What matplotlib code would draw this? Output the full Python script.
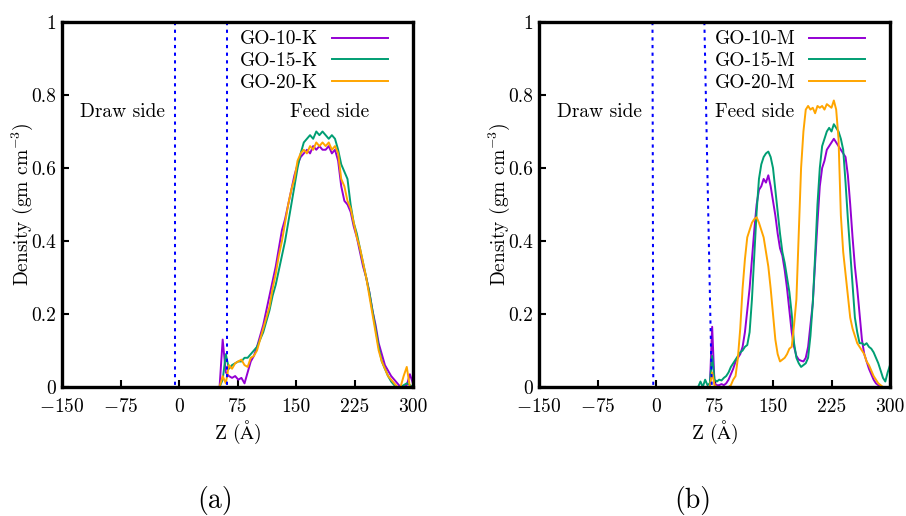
import numpy as np
import matplotlib
matplotlib.use('Agg')
import matplotlib.pyplot as plt

plt.rcParams['font.family'] = ['cmr10', 'DejaVu Serif']
plt.rcParams['mathtext.fontset'] = 'cm'
plt.rcParams['axes.unicode_minus'] = False
plt.rcParams['axes.formatter.use_mathtext'] = True

# density profiles along z, K-series (panel a) on a 4 A grid
z_a = np.arange(52, 301, 4)
go10_k = [0.00, 0.13, 0.04, 0.03, 0.025, 0.03, 0.02, 0.025, 0.01, 0.04,
          0.07, 0.085, 0.11, 0.14, 0.17, 0.21, 0.25, 0.29, 0.33, 0.38,
          0.43, 0.46, 0.50, 0.54, 0.58, 0.61, 0.63, 0.64, 0.65, 0.64,
          0.66, 0.65, 0.66, 0.65, 0.65, 0.66, 0.64, 0.65, 0.62, 0.55,
          0.51, 0.50, 0.48, 0.44, 0.41, 0.37, 0.33, 0.30, 0.26, 0.21,
          0.17, 0.12, 0.09, 0.06, 0.045, 0.03, 0.02, 0.01, 0.00, 0.00,
          0.005, 0.035, 0.01]
go15_k = [0.00, 0.02, 0.09, 0.05, 0.06, 0.065, 0.07, 0.07, 0.08, 0.08,
          0.09, 0.10, 0.11, 0.13, 0.15, 0.18, 0.21, 0.25, 0.28, 0.32,
          0.36, 0.40, 0.45, 0.50, 0.55, 0.60, 0.64, 0.67, 0.68, 0.69,
          0.68, 0.70, 0.69, 0.70, 0.69, 0.68, 0.69, 0.68, 0.65, 0.61,
          0.59, 0.57, 0.50, 0.45, 0.42, 0.38, 0.34, 0.30, 0.26, 0.21,
          0.16, 0.11, 0.07, 0.05, 0.03, 0.015, 0.005, 0.0, 0.0, 0.005,
          0.01, 0.005, 0.0]
go20_k = [0.00, 0.03, 0.01, 0.06, 0.05, 0.065, 0.07, 0.075, 0.06, 0.055,
          0.08, 0.085, 0.10, 0.13, 0.16, 0.19, 0.22, 0.27, 0.31, 0.36,
          0.40, 0.45, 0.50, 0.54, 0.57, 0.62, 0.64, 0.65, 0.64, 0.66,
          0.65, 0.67, 0.66, 0.67, 0.66, 0.67, 0.65, 0.66, 0.64, 0.57,
          0.55, 0.51, 0.49, 0.45, 0.41, 0.38, 0.34, 0.30, 0.25, 0.20,
          0.15, 0.10, 0.07, 0.05, 0.03, 0.02, 0.01, 0.00, 0.00, 0.03,
          0.055, 0.00, 0.00]

# M-series (panel b) on a 3 A grid
z_b = np.arange(54, 301, 3)
go10_m = [0.0, 0.0, 0.0, 0.0, 0.0, 0.0, 0.165, 0.01, 0.005, 0.005,
          0.008, 0.005, 0.01, 0.02, 0.035, 0.05, 0.07, 0.08, 0.09, 0.11,
          0.15, 0.21, 0.27, 0.35, 0.43, 0.50, 0.54, 0.55, 0.57, 0.56,
          0.58, 0.55, 0.51, 0.47, 0.42, 0.38, 0.36, 0.32, 0.27, 0.21,
          0.15, 0.11, 0.085, 0.075, 0.072, 0.07, 0.08, 0.11, 0.17, 0.23,
          0.34, 0.45, 0.55, 0.60, 0.62, 0.65, 0.66, 0.67, 0.68, 0.67,
          0.66, 0.65, 0.64, 0.63, 0.58, 0.50, 0.41, 0.33, 0.27, 0.20,
          0.13, 0.09, 0.07, 0.05, 0.035, 0.02, 0.01, 0.005, 0.0, 0.0,
          0.0, 0.0, 0.0]
go15_m = [0.0, 0.015, 0.0, 0.02, 0.005, 0.01, 0.085, 0.02, 0.015, 0.02,
          0.018, 0.025, 0.03, 0.04, 0.055, 0.065, 0.075, 0.085, 0.095, 0.10,
          0.11, 0.115, 0.15, 0.24, 0.36, 0.48, 0.57, 0.61, 0.63, 0.64,
          0.645, 0.63, 0.60, 0.54, 0.48, 0.42, 0.37, 0.34, 0.30, 0.26,
          0.20, 0.12, 0.08, 0.065, 0.055, 0.06, 0.065, 0.08, 0.14, 0.23,
          0.36, 0.50, 0.60, 0.66, 0.68, 0.70, 0.71, 0.70, 0.72, 0.71,
          0.70, 0.68, 0.65, 0.56, 0.46, 0.37, 0.28, 0.19, 0.15, 0.12,
          0.12, 0.115, 0.12, 0.11, 0.105, 0.095, 0.08, 0.065, 0.045, 0.025,
          0.015, 0.04, 0.06]
go20_m = [0.0, 0.0, 0.0, 0.0, 0.0, 0.0, 0.04, 0.005, 0.0, 0.0,
          0.0, 0.0, 0.0, 0.0, 0.005, 0.02, 0.03, 0.08, 0.16, 0.27,
          0.35, 0.41, 0.43, 0.45, 0.46, 0.465, 0.45, 0.43, 0.41, 0.37,
          0.33, 0.27, 0.20, 0.13, 0.09, 0.07, 0.075, 0.08, 0.09, 0.105,
          0.11, 0.17, 0.24, 0.42, 0.60, 0.70, 0.76, 0.77, 0.76, 0.765,
          0.75, 0.77, 0.765, 0.77, 0.76, 0.775, 0.77, 0.765, 0.785, 0.76,
          0.68, 0.47, 0.37, 0.31, 0.25, 0.19, 0.16, 0.14, 0.12, 0.11,
          0.10, 0.09, 0.07, 0.06, 0.045, 0.03, 0.02, 0.01, 0.005, 0.0,
          0.0, 0.0, 0.0]

# membrane boundaries (z at top, z at bottom)
walls_a = [[-5.5, -5.5], [61.5, 61.5]]
walls_b = [[-4.5, -3.5], [62.0, 71.5]]
wall_y = [1, 0]

z_ticks = [-150, -75, 0, 75, 150, 225, 300]
z_tick_labels = ['$-150$', '$-75$', '0', '75', '150', '225', '300']
rho_ticks = [0, 0.2, 0.4, 0.6, 0.8, 1]
rho_tick_labels = ['0', '0.2', '0.4', '0.6', '0.8', '1']

colors = ['#9400d3', '#009e73', '#ffa500']

fig = plt.figure(figsize=(9.06, 5.16), dpi=100)


def draw_panel(ax, z, curves, names, walls, draw_x, feed_x, tag):
    for y, name, c in zip(curves, names, colors):
        ax.plot(z, y, color=c, lw=1.4, label=name)
    for w in walls:
        ax.plot(w, wall_y, color='#0000ff', lw=1.45, ls=(0, (1.6, 2.2)))
    ax.text(draw_x, 0.753, 'Draw side', ha='center', va='center', fontsize=14)
    ax.text(feed_x, 0.753, 'Feed side', ha='center', va='center', fontsize=14)
    ax.set_xlim(-150, 300)
    ax.set_ylim(0, 1)
    ax.set_xticks(z_ticks, z_tick_labels)
    ax.set_yticks(rho_ticks, rho_tick_labels)
    ax.tick_params(direction='in', length=5, width=1.5, labelsize=14)
    ax.tick_params(axis='x', pad=8)
    ax.tick_params(axis='y', pad=4)
    for s in ax.spines.values():
        s.set_linewidth(2.4)
    ax.set_xlabel(r'Z ($\mathrm{\AA}$)', fontsize=14, labelpad=2)
    ax.set_ylabel(r'Density (gm cm$^{-3}$)', fontsize=14)
    ax.yaxis.set_label_coords(-0.077, 0.5)
    ax.legend(loc='upper right', bbox_to_anchor=(0.93, 0.977), frameon=False,
              markerfirst=False, handlelength=2.9, handletextpad=0.7,
              labelspacing=0.2, borderaxespad=0, borderpad=0, fontsize=14)
    ax.text(0.437, -0.31, tag, transform=ax.transAxes, ha='center', va='center',
            fontsize=20)


ax_a = fig.add_axes([62 / 906, 129 / 516, 351 / 906, 365 / 516])
draw_panel(ax_a, z_a, [go10_k, go15_k, go20_k],
           ['GO-10-K', 'GO-15-K', 'GO-20-K'], walls_a, -72, 193, '(a)')

ax_b = fig.add_axes([539 / 906, 129 / 516, 351 / 906, 365 / 516])
draw_panel(ax_b, z_b, [go10_m, go15_m, go20_m],
           ['GO-10-M', 'GO-15-M', 'GO-20-M'], walls_b, -72, 126, '(b)')

fig.savefig('out.png', dpi=100)
